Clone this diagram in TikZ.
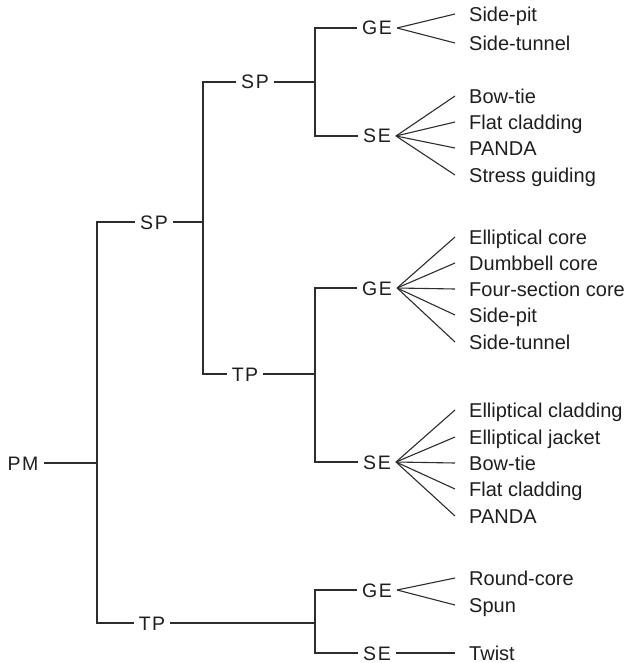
\documentclass[tikz,border=0pt]{standalone}
\usepackage{fontspec}
\setmainfont{Liberation Sans}
\newfontfamily\tagfont[LetterSpace=8]{Liberation Sans}
\usetikzlibrary{positioning}
\definecolor{linecol}{RGB}{45,45,45}
\definecolor{textcol}{RGB}{30,30,30}

\begin{document}
\begin{tikzpicture}[
    x=1pt, y=-1pt,
    tag/.style={inner xsep=5pt, inner ysep=0pt, text height=14pt, text depth=0pt, font=\tagfont\fontsize{19.5}{22}\selectfont, text=textcol},
    leaf/.style={anchor=west, inner sep=0pt, text height=14.3pt, text depth=0pt, font=\fontsize{20}{22}\selectfont, text=textcol},
    branch/.style={draw=linecol, line width=1.1pt},
]
\useasboundingbox (0,0) rectangle (633,663);

% inner labels
\node[tag] (pm) at (23,463) {PM};
\node[tag] (sp1) at (154,222) {SP};
\node[tag] (tp1) at (152,623) {TP};
\node[tag] (sp2) at (255,82) {SP};
\node[tag] (tp2) at (245,374) {TP};
\node[tag] (ge1) at (377,28) {GE};
\node[tag] (se1) at (377,136) {SE};
\node[tag] (ge2) at (377,288) {GE};
\node[tag] (se2) at (377,462) {SE};
\node[tag] (ge3) at (377,590) {GE};
\node[tag] (se3) at (377,653) {SE};

% branch points
\coordinate (j0) at (97,463);
\coordinate (j1) at (203,222);
\coordinate (j2) at (315,82);
\coordinate (j3) at (315,374);
\coordinate (j4) at (315,623);

% leaves
\node[leaf] (a1) at (469,14) {Side-pit};
\node[leaf] (a2) at (469,43) {Side-tunnel};
\node[leaf] (b1) at (469,96) {Bow-tie};
\node[leaf] (b2) at (469,122) {Flat cladding};
\node[leaf] (b3) at (469,148) {PANDA};
\node[leaf] (b4) at (469,175) {Stress guiding};
\node[leaf] (c1) at (469,237) {Elliptical core};
\node[leaf] (c2) at (469,263) {Dumbbell core};
\node[leaf] (c3) at (469,289) {Four-section core};
\node[leaf] (c4) at (469,315) {Side-pit};
\node[leaf] (c5) at (469,342) {Side-tunnel};
\node[leaf] (d1) at (469,410) {Elliptical cladding};
\node[leaf] (d2) at (469,437) {Elliptical jacket};
\node[leaf] (d3) at (469,463) {Bow-tie};
\node[leaf] (d4) at (469,489) {Flat cladding};
\node[leaf] (d5) at (469,516) {PANDA};
\node[leaf] (e1) at (469,578) {Round-core};
\node[leaf] (e2) at (469,605) {Spun};
\node[leaf] (f1) at (469,653) {Twist};

% tree
\draw[branch] (pm) -- (j0);
\draw[branch] (j0) |- (sp1);
\draw[branch] (j0) |- (tp1);
\draw[branch] (sp1) -- (j1);
\draw[branch] (j1) |- (sp2);
\draw[branch] (j1) |- (tp2);
\draw[branch] (sp2) -- (j2);
\draw[branch] (j2) |- (ge1);
\draw[branch] (j2) |- (se1);
\draw[branch] (tp2) -- (j3);
\draw[branch] (j3) |- (ge2);
\draw[branch] (j3) |- (se2);
\draw[branch] (tp1) -- (j4);
\draw[branch] (j4) |- (ge3);
\draw[branch] (j4) |- (se3);

% fans
\draw[branch] (ge1.east) -- ([xshift=-14pt]a1.west);
\draw[branch] (ge1.east) -- ([xshift=-14pt]a2.west);
\draw[branch] (se1.east) -- ([xshift=-14pt]b1.west);
\draw[branch] (se1.east) -- ([xshift=-14pt]b2.west);
\draw[branch] (se1.east) -- ([xshift=-14pt]b3.west);
\draw[branch] (se1.east) -- ([xshift=-14pt]b4.west);
\draw[branch] (ge2.east) -- ([xshift=-14pt]c1.west);
\draw[branch] (ge2.east) -- ([xshift=-14pt]c2.west);
\draw[branch] (ge2.east) -- ([xshift=-14pt]c3.west);
\draw[branch] (ge2.east) -- ([xshift=-14pt]c4.west);
\draw[branch] (ge2.east) -- ([xshift=-14pt]c5.west);
\draw[branch] (se2.east) -- ([xshift=-14pt]d1.west);
\draw[branch] (se2.east) -- ([xshift=-14pt]d2.west);
\draw[branch] (se2.east) -- ([xshift=-14pt]d3.west);
\draw[branch] (se2.east) -- ([xshift=-14pt]d4.west);
\draw[branch] (se2.east) -- ([xshift=-14pt]d5.west);
\draw[branch] (ge3.east) -- ([xshift=-14pt]e1.west);
\draw[branch] (ge3.east) -- ([xshift=-14pt]e2.west);
\draw[branch] (se3.east) -- ([xshift=-14pt]f1.west);

\end{tikzpicture}
\end{document}
